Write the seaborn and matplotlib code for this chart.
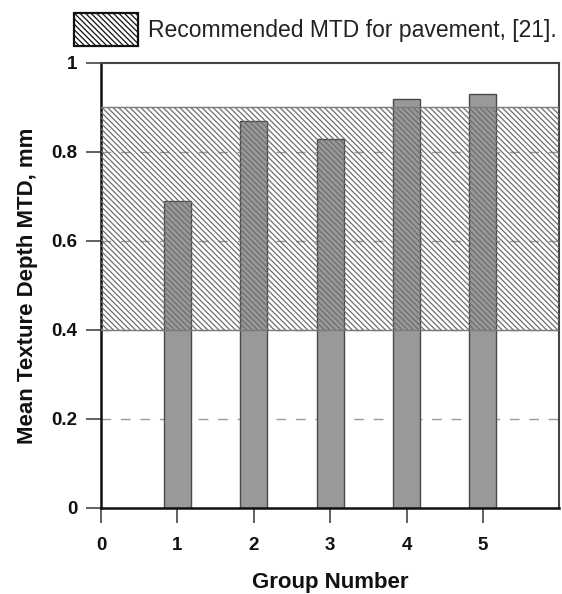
import matplotlib
matplotlib.use("Agg")
import matplotlib.pyplot as plt
import matplotlib.patches as mpatches
import seaborn as sns
import pandas as pd

groups = [1, 2, 3, 4, 5]
mtd = [0.69, 0.87, 0.83, 0.92, 0.93]
band_low, band_high = 0.4, 0.9
band_label = "Recommended MTD for pavement, [21]."

sns.set_style("white")
plt.rcParams['font.family'] = ['Liberation Sans', 'DejaVu Sans']
plt.rcParams['hatch.color'] = '#6e6e6e'
plt.rcParams['hatch.linewidth'] = 0.9

df = pd.DataFrame({"group": groups, "mtd": mtd})

fig = plt.figure(figsize=(5.62, 5.94), dpi=100)
ax = fig.add_axes([0.18, 0.145, 0.815, 0.749])

# dashed grid at major y ticks
for y in [0.2, 0.4, 0.6, 0.8]:
    ax.axhline(y, color='#9a9a9a', lw=1.0, ls=(0, (7, 7)), zorder=0)

sns.barplot(data=df, x="group", y="mtd", native_scale=True, width=0.35,
            color='#999999', edgecolor='#4a4a4a', linewidth=1.0,
            saturation=1, ax=ax, zorder=2)

# recommended band, hatched over the bars
ax.axhspan(band_low, band_high, facecolor='none', edgecolor='#6e6e6e',
           hatch='\\' * 6, lw=0, zorder=3)
ax.axhline(band_low, color='#7a7a7a', lw=1.0, zorder=3)
ax.axhline(band_high, color='#7a7a7a', lw=1.0, zorder=3)

ax.set_xlim(0, 6)
ax.set_ylim(0, 1)
ax.set_xticks([0, 1, 2, 3, 4, 5])
ax.set_xticklabels(['0', '1', '2', '3', '4', '5'])
ax.set_yticks([0, 0.2, 0.4, 0.6, 0.8, 1])
ax.set_yticklabels(['0', '0.2', '0.4', '0.6', '0.8', '1'])
ax.set_yticks([0.1, 0.3, 0.5, 0.7, 0.9], minor=True)

ax.tick_params(axis='both', which='major', direction='out', length=11, width=1.3,
               labelsize=13.5, color='#555555', labelcolor='#111111')
ax.tick_params(axis='x', which='major', pad=10)
ax.tick_params(axis='y', which='major', pad=6)
ax.tick_params(axis='y', which='minor', direction='out', length=5, width=1.1,
               color='#555555')
ax.tick_params(left=True, bottom=True)
for lab in ax.get_xticklabels() + ax.get_yticklabels():
    lab.set_fontweight('bold')

ax.set_xlabel("Group Number", fontsize=16, fontweight='bold', labelpad=13,
              color='#111111')
ax.set_ylabel("Mean Texture Depth MTD, mm", fontsize=16, fontweight='bold',
              labelpad=10, color='#111111')

for side in ['left', 'bottom']:
    ax.spines[side].set_color('#111111')
    ax.spines[side].set_linewidth(1.8)
for side in ['top', 'right']:
    ax.spines[side].set_color('#444444')
    ax.spines[side].set_linewidth(1.5)

handle = mpatches.Patch(facecolor='white', edgecolor='#111111', hatch='\\' * 6,
                        lw=1.6, label=band_label)
fig.legend(handles=[handle], loc='upper left', bbox_to_anchor=(0.095, 1.012),
           frameon=False, fontsize=16.5, handlelength=2.8, handleheight=1.8,
           handletextpad=0.45, labelcolor='#222222')

fig.savefig("out.png", dpi=100)
